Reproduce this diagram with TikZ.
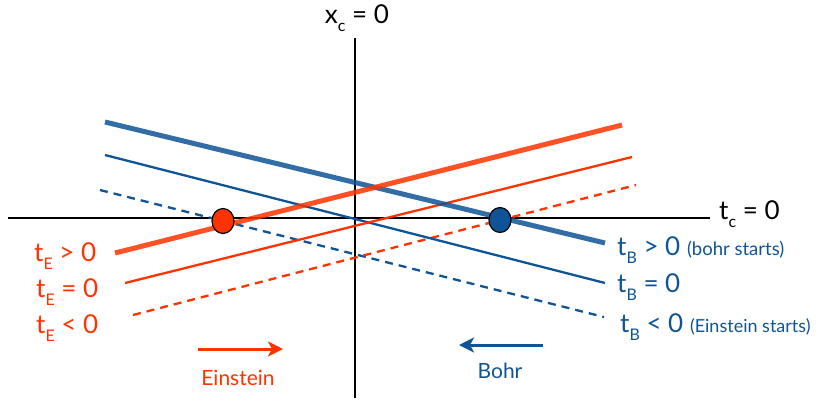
\documentclass[tikz,border=0pt]{standalone}
\usepackage{fontspec}
\setmainfont{Lato}
\usetikzlibrary{arrows.meta,shapes.geometric}
\definecolor{ered}{RGB}{255,51,0}
\definecolor{bblue}{RGB}{14,84,150}
\newcommand{\tsub}[2]{#1\raisebox{-0.3em}{\fontsize{16}{16}\selectfont #2}}
\tikzset{
  axis/.style={line width=2.4pt, black},
  thickl/.style={line width=5pt},
  solidl/.style={line width=2.3pt},
  dashl/.style={line width=2.3pt, dash pattern=on 8pt off 6pt},
  lab/.style={font=\fontsize{26}{26}\selectfont, inner sep=0pt, anchor=west},
  dotmark/.style={ellipse, draw=black, line width=1.2pt, minimum width=22pt, minimum height=25pt, inner sep=0pt},
  dirarrow/.style={line width=3pt, -{Stealth[length=15pt,width=15pt,inset=4pt]}},
}
\begin{document}
\begin{tikzpicture}[x=1pt,y=-1pt]
\useasboundingbox (0,0) rectangle (824,400);
% axes
\coordinate (hl) at (8,218); \coordinate (hr) at (710,218);
\coordinate (vt) at (355,38); \coordinate (vb) at (355,398);
\draw[axis] (hl) -- (hr);
\draw[axis] (vt) -- (vb);
\node[lab, anchor=west] (tc) at (719,214) {\tsub{t}{c} = 0};
\node[lab, anchor=center] (xc) at (357,18) {\tsub{x}{c} = 0};
% red lines
\coordinate (r1a) at (115,253); \coordinate (r1b) at (622,125);
\coordinate (r2a) at (125,283); \coordinate (r2b) at (632,157);
\coordinate (r3a) at (133,315); \coordinate (r3b) at (636,185);
% blue lines
\coordinate (b1a) at (105,122); \coordinate (b1b) at (605,243);
\coordinate (b2a) at (105,155); \coordinate (b2b) at (605,283);
\coordinate (b3a) at (100,190); \coordinate (b3b) at (604,317);
\draw[dashl, bblue] (b3a) -- (b3b);
\draw[dashl, ered] (r3a) -- (r3b);
\draw[solidl, bblue] (b2a) -- (b2b);
\draw[solidl, ered] (r2a) -- (r2b);
\draw[thickl, bblue, opacity=0.85] (b1a) -- (b1b);
\draw[thickl, ered, opacity=0.85] (r1a) -- (r1b);
% dots
\node[dotmark, fill=ered] (edot) at (223,221) {};
\node[dotmark, fill=bblue] (bdot) at (500,220) {};
% left labels
\node[lab, ered] (le1) at (34,256) {\tsub{t}{E} > 0};
\node[lab, ered] (le2) at (36,292) {\tsub{t}{E} = 0};
\node[lab, ered] (le3) at (36,328) {\tsub{t}{E} < 0};
% right labels
\node[lab, bblue] (lb1) at (617,250) {\tsub{t}{B} > 0 {\fontsize{18.5}{18.5}\selectfont (bohr starts)}};
\node[lab, bblue] (lb2) at (617,287) {\tsub{t}{B} = 0};
\node[lab, bblue] (lb3) at (620,327) {\tsub{t}{B} < 0 {\fontsize{18}{18}\selectfont (Einstein starts)}};
% direction arrows
\coordinate (ea) at (198,349); \coordinate (eb) at (283,349);
\draw[dirarrow, ered] (ea) -- (eb);
\node[ered, font=\fontsize{21}{21}\selectfont] (ein) at (238,378) {Einstein};
\coordinate (ba) at (543,345); \coordinate (bb) at (459,345);
\draw[dirarrow, bblue] (ba) -- (bb);
\node[bblue, font=\fontsize{21}{21}\selectfont] (bohr) at (500,371) {Bohr};
\end{tikzpicture}
\end{document}
